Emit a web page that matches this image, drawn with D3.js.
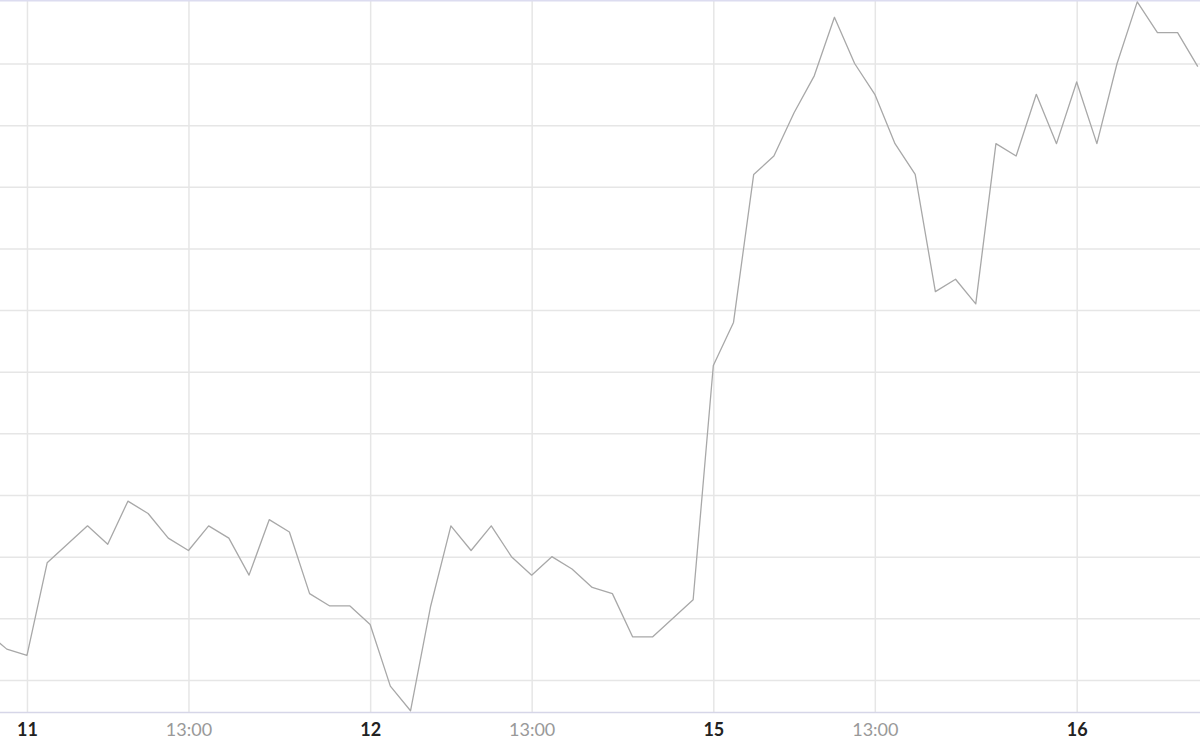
<!DOCTYPE html>
<html>
<head>
<meta charset="utf-8">
<script src="https://cdn.jsdelivr.net/npm/d3@7"></script>
<style>
  body { margin: 0; background: #fff; }
  svg { display: block; font-family: Lato, "Open Sans", sans-serif; }
</style>
</head>
<body>
<div id="chart"></div>
<script>
// values in grid units (one horizontal gridline per unit), one point every 30 min
var values = [
  0.78, 0.5, 0.4, 1.9, 2.2, 2.5, 2.2, 2.9, 2.7, 2.3,
  2.1, 2.5, 2.3, 1.7, 2.6, 2.4, 1.4, 1.2, 1.2, 0.9,
  -0.1, -0.5, 1.2, 2.5, 2.1, 2.5, 2.0, 1.7, 2.0, 1.8,
  1.5, 1.4, 0.7, 0.7, 1.0, 1.3, 5.1, 5.8, 8.2, 8.5,
  9.2, 9.8, 10.75, 10.0, 9.5, 8.7, 8.2, 6.3, 6.5, 6.1,
  8.7, 8.5, 9.5, 8.7, 9.7, 8.7, 10.0, 11.0, 10.5, 10.5,
  9.95
];
var tickIndex = [2, 10, 19, 27, 36, 44, 54];
var tickLabels = ["11", "13:00", "12", "13:00", "15", "13:00", "16"];
var tickIsDay = [true, false, true, false, true, false, true];
var gridValues = [0, 1, 2, 3, 4, 5, 6, 7, 8, 9, 10];

var svgWidth = 1200;
var svgHeight = 750;
var plotHeight = 712;

var svg = d3.select("#chart")
  .append("svg")
  .attr("width", svgWidth)
  .attr("height", svgHeight);

svg.append("defs").append("clipPath")
  .attr("id", "plot-clip")
  .append("rect")
  .attr("x", 0)
  .attr("y", 0)
  .attr("width", svgWidth)
  .attr("height", plotHeight);

var xScale = d3.scaleLinear()
  .domain([0, values.length - 1])
  .range([-13.4, 1197.8]);

var yScale = d3.scaleLinear()
  .domain([-0.52, 11.03])
  .range([plotHeight, 0]);

// horizontal gridlines
svg.append("g")
  .attr("class", "y-grid")
  .call(d3.axisLeft(yScale).tickValues(gridValues).tickSize(-svgWidth).tickFormat(""))
  .call(g => g.select(".domain").remove())
  .call(g => g.selectAll("line").attr("stroke", "#e6e6e6").attr("stroke-width", 1.5));

// vertical gridlines
svg.append("g")
  .attr("class", "x-grid")
  .attr("transform", `translate(0, ${plotHeight})`)
  .call(d3.axisBottom(xScale).tickValues(tickIndex).tickSize(-plotHeight).tickFormat(""))
  .call(g => g.select(".domain").remove())
  .call(g => g.selectAll("line").attr("stroke", "#e6e6e6").attr("stroke-width", 1.5));

// top border
svg.append("line")
  .attr("x1", 0).attr("x2", svgWidth)
  .attr("y1", 0.75).attr("y2", 0.75)
  .attr("stroke", "#dcdcf0")
  .attr("stroke-width", 1.5);

// x axis
var xAxis = svg.append("g")
  .attr("class", "x-axis")
  .attr("transform", `translate(0, ${plotHeight})`)
  .call(d3.axisBottom(xScale)
    .tickValues(tickIndex)
    .tickSize(0)
    .tickPadding(11)
    .tickFormat((d, i) => tickLabels[i]));

xAxis.select(".domain")
  .attr("d", `M0,0.5H${svgWidth}`)
  .attr("stroke", "#d6d6e8")
  .attr("stroke-width", 1.5);

xAxis.selectAll("text")
  .attr("font-family", "Lato, 'Open Sans', sans-serif")
  .attr("font-size", 18)
  .attr("font-weight", (d, i) => tickIsDay[i] ? "bold" : "normal")
  .attr("fill", (d, i) => tickIsDay[i] ? "#222" : "#999");

// price line
var line = d3.line()
  .x((d, i) => xScale(i))
  .y(d => yScale(d));

svg.append("path")
  .datum(values)
  .attr("clip-path", "url(#plot-clip)")
  .attr("fill", "none")
  .attr("stroke", "#a8a8a8")
  .attr("stroke-width", 1.3)
  .attr("stroke-linejoin", "round")
  .attr("d", line);
</script>
</body>
</html>
